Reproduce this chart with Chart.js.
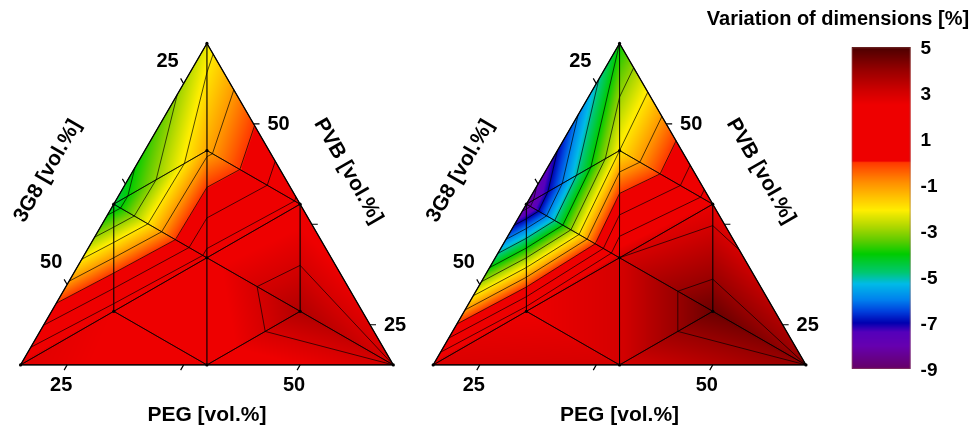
<!DOCTYPE html>
<html><head><meta charset="utf-8">
<script src="https://cdn.jsdelivr.net/npm/chart.js@4/dist/chart.umd.min.js"></script>
<style>html,body{margin:0;padding:0;background:#fff;overflow:hidden}canvas{display:block}</style>
</head><body>
<div style="width:973px;height:437px"><canvas id="c" width="973" height="437"></canvas></div>
<script>
// ---- data: composition of the 10 design points (vol.%) ----
const PEG  = [20, 20, 60, 20, 40, 40, 33.33, 26.67, 26.67, 46.67];
const G3G8 = [20, 60, 20, 40, 20, 40, 33.33, 26.67, 46.67, 26.67];
const PVB  = [60, 20, 20, 40, 40, 20, 33.33, 46.67, 26.67, 26.67];
// variation of dimensions [%] at each point
const variationLeft  = [-2.3, 2.8, 3.0, -4.5, 2.2, 2.0, 2.3, -1.2, 2.5, 3.6];
const variationRight = [-4.0, 2.9, 4.0, -8.5, 2.6, 3.0, 3.0, -2.0, 2.5, 4.6];
// triangulation of the design points
const meshTriangles = [[0,3,7],[0,7,4],[3,7,6],[7,4,6],[3,1,8],[3,8,6],[1,8,5],[8,5,6],[6,5,9],[5,2,9],[2,9,4],[9,4,6]];
const axisTicks = [25, 37.5, 50];
const axisTickLabels = [25, 50];
const colorbarTicks = [5, 3, 1, -1, -3, -5, -7, -9];
const contourLevels = [-9, -8, -7, -6, -5, -4, -3, -2, -1, 0, 1, 2, 3, 4, 5];
const colorbarTitle = 'Variation of dimensions [%]';
const axisTitles = {peg: 'PEG [vol.%]', g3g8: '3G8 [vol.%]', pvb: 'PVB [vol.%]'};

// ---- layout ----
const T_MIN = 20, T_SPAN = 40;
const panels = [
  {x0: 19, y0: 366, side: 374, values: variationLeft},
  {x0: 433, y0: 366, side: 374, values: variationRight}
];
const cbar = {x: 853, w: 59, top: 46, bottom: 370, vmax: 5, vmin: -9};
const stops = [
  [-9, [0x66,0x00,0x66]], [-8, [0x66,0x00,0xb0]], [-7.4,[0x55,0x00,0xbb]], [-7, [0x00,0x00,0xb0]],
  [-6.5,[0x00,0x40,0xdd]], [-6, [0x00,0x80,0xee]], [-5.3,[0x00,0xbb,0xe8]], [-4.8,[0x00,0xc8,0x70]],
  [-4, [0x00,0xcc,0x00]], [-3.4,[0x60,0xcc,0x00]], [-2.8,[0xb0,0xd8,0x00]], [-2.1,[0xff,0xee,0x00]],
  [-1.5,[0xff,0xc0,0x00]], [-0.9,[0xff,0x90,0x00]], [-0.3,[0xff,0x55,0x00]], [-0.02,[0xff,0x38,0x00]],
  [0.05,[0xee,0x00,0x00]], [2.5,[0xee,0x00,0x00]], [3.1, [0xd0,0x00,0x00]], [4, [0x98,0x00,0x00]], [5, [0x4c,0x00,0x00]]
];
function colorAt(v){
  if (v <= stops[0][0]) return stops[0][1];
  for (let i=1;i<stops.length;i++){
    if (v <= stops[i][0]){
      const [a,ca]=stops[i-1],[b,cb]=stops[i];
      const t=(v-a)/(b-a);
      return [ca[0]+(cb[0]-ca[0])*t, ca[1]+(cb[1]-ca[1])*t, ca[2]+(cb[2]-ca[2])*t];
    }
  }
  return stops[stops.length-1][1];
}
function ternaryToXY(peg, g, pvb, p){
  const wA=(pvb-T_MIN)/T_SPAN, wC=(peg-T_MIN)/T_SPAN;
  return {x: p.x0 + p.side*(wC + wA/2), y: p.y0 - p.side*Math.sqrt(3)/2*wA};
}
const FONT = '"Liberation Sans", Arial, sans-serif';

const ternaryPlugin = {
  id: 'ternary',
  beforeDatasetsDraw(chart){
    const ctx = chart.ctx, xs = chart.scales.x, ys = chart.scales.y;
    const P = (pt)=>[xs.getPixelForValue(pt.x), ys.getPixelForValue(pt.y)];
    const W = chart.width, H = chart.height;
    const off = document.createElement('canvas'); off.width=W; off.height=H;
    const octx = off.getContext('2d');
    const img = octx.createImageData(W,H);
    panels.forEach(p=>{
      const pts = PEG.map((_,i)=>P(ternaryToXY(PEG[i],G3G8[i],PVB[i],p)));
      meshTriangles.forEach(tri=>{
        const [a,b,c]=tri.map(i=>pts[i]); const [va,vb,vc]=tri.map(i=>p.values[i]);
        const det=(b[1]-c[1])*(a[0]-c[0])+(c[0]-b[0])*(a[1]-c[1]);
        const x0=Math.max(0,Math.floor(Math.min(a[0],b[0],c[0]))), x1=Math.min(W-1,Math.ceil(Math.max(a[0],b[0],c[0])));
        const y0=Math.max(0,Math.floor(Math.min(a[1],b[1],c[1]))), y1=Math.min(H-1,Math.ceil(Math.max(a[1],b[1],c[1])));
        for(let y=y0;y<=y1;y++) for(let x=x0;x<=x1;x++){
          const px=x+0.5, py=y+0.5;
          const l1=((b[1]-c[1])*(px-c[0])+(c[0]-b[0])*(py-c[1]))/det;
          const l2=((c[1]-a[1])*(px-c[0])+(a[0]-c[0])*(py-c[1]))/det;
          const l3=1-l1-l2;
          if(l1<-0.02||l2<-0.02||l3<-0.02) continue;
          const col=colorAt(l1*va+l2*vb+l3*vc);
          const k=(y*W+x)*4; img.data[k]=col[0]; img.data[k+1]=col[1]; img.data[k+2]=col[2]; img.data[k+3]=255;
        }
      });
    });
    octx.putImageData(img,0,0);
    ctx.save();
    ctx.beginPath();
    panels.forEach(p=>{
      const A=P(ternaryToXY(20,20,60,p)),B=P(ternaryToXY(20,60,20,p)),C=P(ternaryToXY(60,20,20,p));
      ctx.moveTo(A[0],A[1]);ctx.lineTo(B[0],B[1]);ctx.lineTo(C[0],C[1]);ctx.closePath();
    });
    ctx.save(); ctx.clip(); ctx.drawImage(off,0,0); ctx.restore();

    panels.forEach(p=>{
      const pts = PEG.map((_,i)=>P(ternaryToXY(PEG[i],G3G8[i],PVB[i],p)));
      ctx.beginPath(); ctx.lineWidth=0.8; ctx.strokeStyle='rgba(0,0,0,0.85)'; ctx.lineJoin='round';
      meshTriangles.forEach(tri=>{
        contourLevels.forEach(L0=>{
          const L=L0+1e-7, seg=[];
          for(let e=0;e<3;e++){
            const i=tri[e], j=tri[(e+1)%3], vi=p.values[i], vj=p.values[j];
            if((vi-L)*(vj-L)<0){ const t=(L-vi)/(vj-vi); seg.push([pts[i][0]+(pts[j][0]-pts[i][0])*t, pts[i][1]+(pts[j][1]-pts[i][1])*t]); }
          }
          if(seg.length===2){ ctx.moveTo(seg[0][0],seg[0][1]); ctx.lineTo(seg[1][0],seg[1][1]); }
        });
      });
      meshTriangles.forEach(tri=>{
        ctx.moveTo(pts[tri[0]][0],pts[tri[0]][1]); ctx.lineTo(pts[tri[1]][0],pts[tri[1]][1]);
        ctx.lineTo(pts[tri[2]][0],pts[tri[2]][1]); ctx.closePath();
      });
      ctx.stroke();
      const A=pts[0],B=pts[1],C=pts[2];
      ctx.beginPath(); ctx.lineWidth=1.2; ctx.strokeStyle='#000';
      ctx.moveTo(A[0],A[1]);ctx.lineTo(B[0],B[1]);ctx.lineTo(C[0],C[1]);ctx.closePath();ctx.stroke();
      const tl=6; ctx.lineWidth=1.2;
      ctx.fillStyle='#000'; ctx.font='bold 20px '+FONT; ctx.textAlign='center'; ctx.textBaseline='middle';
      axisTicks.forEach(t=>{
        const bt=P(ternaryToXY(t, 100-t-T_MIN, T_MIN, p));
        const lt=P(ternaryToXY(T_MIN, t, 100-t-T_MIN, p));
        const rt=P(ternaryToXY(100-t-T_MIN, T_MIN, t, p));
        ctx.beginPath();
        ctx.moveTo(bt[0],bt[1]); ctx.lineTo(bt[0]-0.5*tl, bt[1]+0.866*tl);
        ctx.moveTo(lt[0],lt[1]); ctx.lineTo(lt[0]-0.5*tl, lt[1]-0.866*tl);
        ctx.moveTo(rt[0],rt[1]); ctx.lineTo(rt[0]+tl, rt[1]);
        ctx.stroke();
        if(axisTickLabels.includes(t)){
          ctx.fillText(String(t), bt[0]-6, bt[1]+21);
          ctx.fillText(String(t), lt[0]-16, lt[1]-22);
          ctx.fillText(String(t), rt[0]+25, rt[1]+1);
        }
      });
      ctx.font='bold 21px '+FONT;
      const bm=P(ternaryToXY(40,40,20,p)), lm=P(ternaryToXY(20,40,40,p)), rm=P(ternaryToXY(40,20,40,p));
      ctx.fillText(axisTitles.peg, bm[0], bm[1]+50);
      ctx.save(); ctx.translate(lm[0]-66, lm[1]-33); ctx.rotate(-Math.PI/3); ctx.fillText(axisTitles.g3g8,0,0); ctx.restore();
      ctx.save(); ctx.translate(rm[0]+48, rm[1]-33); ctx.rotate(Math.PI/3); ctx.fillText(axisTitles.pvb,0,0); ctx.restore();
    });
    const cx=xs.getPixelForValue(cbar.x), cw=xs.getPixelForValue(cbar.x+cbar.w)-cx;
    const top=ys.getPixelForValue(cbar.top), bot=ys.getPixelForValue(cbar.bottom);
    for(let y=Math.floor(top);y<bot;y++){
      const v=cbar.vmax-(y+0.5-top)/(bot-top)*(cbar.vmax-cbar.vmin);
      const c=colorAt(v); ctx.fillStyle=`rgb(${c[0]|0},${c[1]|0},${c[2]|0})`; ctx.fillRect(cx,y,cw,1);
    }
    ctx.strokeStyle='rgba(150,90,90,0.5)'; ctx.lineWidth=1; ctx.strokeRect(cx+0.5,top+0.5,cw-1,bot-top-1);
    ctx.fillStyle='#000'; ctx.font='bold 19px '+FONT; ctx.textAlign='left'; ctx.textBaseline='middle';
    colorbarTicks.forEach(v=>{
      const y=top+(cbar.vmax-v)/(cbar.vmax-cbar.vmin)*(bot-top);
      ctx.fillText(String(v), cx+cw+10, y+2);
    });
    ctx.font='bold 20px '+FONT; ctx.textAlign='center';
    ctx.fillText(colorbarTitle, 838, 19);
    ctx.restore();
  }
};

new Chart(document.getElementById('c'), {
  type: 'scatter',
  data: {datasets: panels.map(p=>({
    data: PEG.map((_,i)=>ternaryToXY(PEG[i],G3G8[i],PVB[i],p)),
    pointRadius: 1.6, pointBackgroundColor: '#000', pointBorderWidth: 0, pointHoverRadius: 1.6
  }))},
  options: {
    responsive: false, animation: false, events: [],
    layout: {padding: 0},
    plugins: {legend: {display: false}, tooltip: {enabled: false}},
    scales: {
      x: {type: 'linear', min: 0, max: 973, display: false},
      y: {type: 'linear', min: 0, max: 437, reverse: true, display: false}
    }
  },
  plugins: [ternaryPlugin]
});
</script>
</body></html>
